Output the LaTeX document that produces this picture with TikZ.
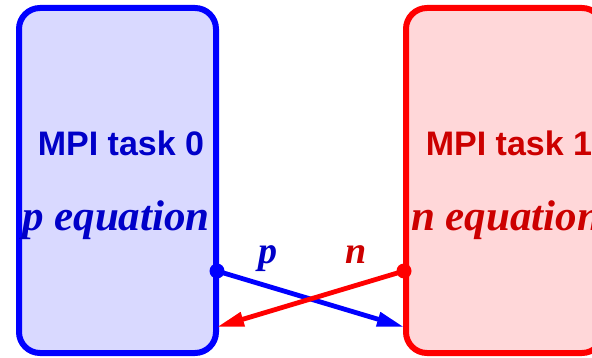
\documentclass[tikz,border=0pt]{standalone}
\usepackage{fontspec}
\setmainfont{Liberation Serif}
\setsansfont{Liberation Sans}
\usetikzlibrary{arrows.meta}
\definecolor{taskblue}{RGB}{0,0,255}
\definecolor{taskred}{RGB}{255,0,0}
\definecolor{blueink}{RGB}{0,0,200}
\definecolor{redink}{RGB}{204,0,0}
\definecolor{bluefill}{RGB}{217,217,255}
\definecolor{redfill}{RGB}{255,215,217}
\tikzset{
  taskbox/.style={draw, line width=6pt, rounded corners=21pt, minimum width=197pt, minimum height=345pt, inner sep=0pt},
  tasktitle/.style={font=\sffamily\bfseries\fontsize{34}{36}\selectfont, inner sep=0pt},
  eqtext/.style={font=\rmfamily\bfseries\itshape\fontsize{43}{46}\selectfont, inner sep=0pt, anchor=base},
  flowlabel/.style={font=\rmfamily\bfseries\itshape\fontsize{38}{40}\selectfont, inner sep=0pt, anchor=base},
  port/.style={circle, fill, inner sep=0pt, minimum size=15pt},
  msg/.style={line width=4.8pt, -{Triangle[length=27pt, width=14pt]}}
}
\begin{document}
\begin{tikzpicture}[x=1pt, y=1pt]
  \useasboundingbox (0,0) rectangle (592,357);
  % the two MPI tasks
  \node[taskbox, draw=taskblue, fill=bluefill] (t0) at (117.5,176.5) {};
  \node[taskbox, draw=taskred, fill=redfill] (t1) at (504.5,176.5) {};
  \node[tasktitle, text=blueink] (title0) at (121,214) {MPI task 0};
  \node[tasktitle, text=redink] (title1) at (509,214) {MPI task 1};
  \node[eqtext, text=blueink] (eq0) at (116,127) {p equation};
  \node[eqtext, text=redink] (eq1) at (506,127) {n equation};
  % send ports and receive points
  \node[port, taskblue] (send0) at (217,86) {};
  \node[port, taskred] (send1) at (404,86) {};
  \coordinate (recv0) at (217,30);
  \coordinate (recv1) at (404,30);
  % exchanged variables
  \draw[msg, taskblue] (send0.center) -- (recv1);
  \draw[msg, taskred] (send1.center) -- (recv0);
  \node[flowlabel, text=blueink] (lp) at (268,94) {p};
  \node[flowlabel, text=redink] (ln) at (356,94) {n};
\end{tikzpicture}
\end{document}
